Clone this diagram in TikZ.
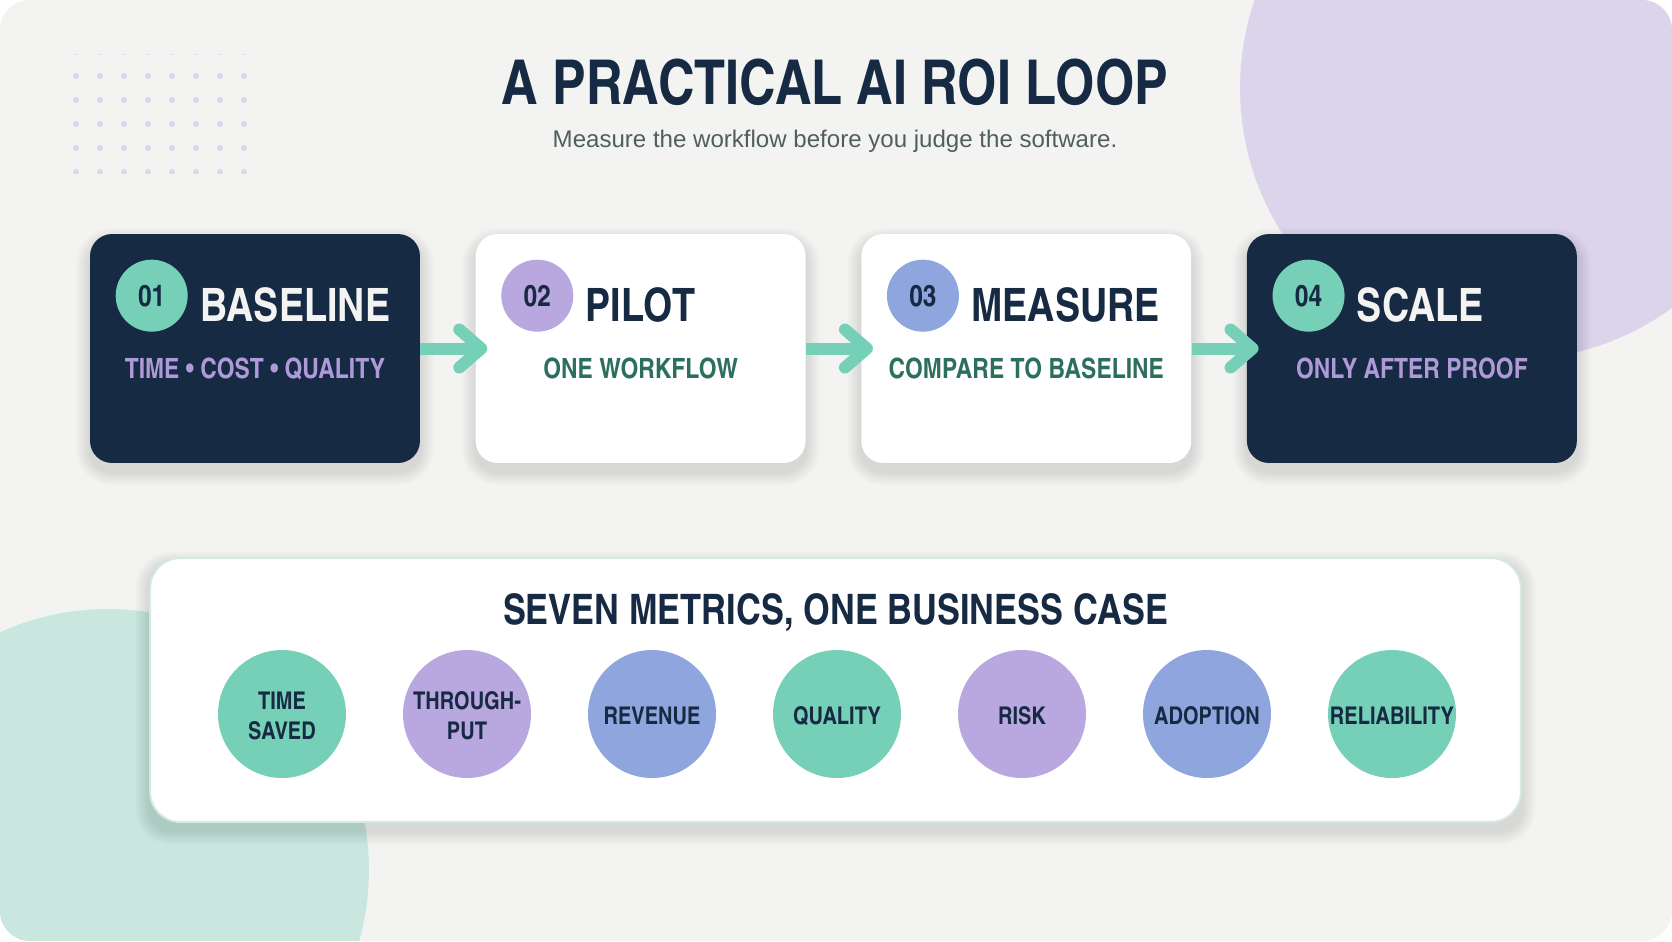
\documentclass[tikz,border=0pt]{standalone}
\usepackage{fontspec}
\setmainfont{Liberation Sans}
\newfontfamily\cnd{texgyreheroscn-bold.otf}
\usetikzlibrary{positioning,calc,arrows.meta}

\definecolor{paper}{HTML}{F3F3F1}
\definecolor{navy}{HTML}{172A43}
\definecolor{mint}{HTML}{76CFB7}
\definecolor{lilac}{HTML}{B9A7E0}
\definecolor{peri}{HTML}{8FA5DE}
\definecolor{pine}{HTML}{2D6F5F}
\definecolor{lilactext}{HTML}{AF9AD9}
\definecolor{blobl}{HTML}{DCD4EA}
\definecolor{blobm}{HTML}{C9E6DF}
\definecolor{dotc}{HTML}{D4D9EC}
\definecolor{slate}{HTML}{4F5F5D}
\definecolor{rim}{HTML}{D5E8E2}

\pgfdeclarelayer{backdrop}
\pgfdeclarelayer{shade}
\pgfsetlayers{backdrop,shade,main}

\begin{document}
\begin{tikzpicture}[x=0.02cm, y=-0.02cm,
        card/.style={rectangle, rounded corners=0.44cm, minimum width=6.6cm,
            minimum height=4.58cm, inner sep=0},
        darkcard/.style={card, fill=navy},
        lightcard/.style={card, fill=white},
        badge/.style={circle, minimum size=1.44cm, inner sep=0, text=navy,
            font=\cnd\fontsize{17}{17}\selectfont},
        steptitle/.style={anchor=base west, inner sep=0,
            font=\cnd\fontsize{26.2}{26.2}\selectfont},
        stepnote/.style={anchor=base, inner sep=0,
            font=\cnd\fontsize{15.9}{15.9}\selectfont},
        panel/.style={rectangle, fill=white, draw=rim, line width=0.04cm,
            rounded corners=0.6cm, minimum width=27.42cm, minimum height=5.28cm},
        metric/.style={circle, minimum size=2.56cm, inner sep=0, align=center,
            text=navy, font=\cnd\fontsize{13.9}{17.1}\selectfont},
        flow/.style={line width=0.24cm, mint,
            -{Straight Barb[length=0.44cm, width=0.76cm, round]}},
    ]
        \useasboundingbox (0,0) rectangle (1672,941);

        % Page, blobs and dot grid
        \begin{pgfonlayer}{backdrop}
            \fill[white] (0,0) rectangle (1672,941);
            \fill[paper, rounded corners=0.6cm] (0,0) rectangle (1672,941);
            \begin{scope}
                \clip[rounded corners=0.6cm] (0,0) rectangle (1672,941);
                \fill[blobl] (1512,88) circle [radius=5.44cm];
                \fill[blobm] (108,870) circle [radius=5.22cm];
            \end{scope}
            \begin{scope}
                \clip (54.7,54.7) rectangle (246.7,173.3);
                \foreach \i in {0,...,8} {
                    \foreach \j in {0,...,5} {
                        \fill[dotc] (52+24*\i, 52+24*\j) circle [radius=0.06cm];
                    }
                }
            \end{scope}
        \end{pgfonlayer}

        % Heading
        \node[anchor=base, inner sep=0, text=navy,
            font=\cnd\fontsize{35.2}{35.2}\selectfont] (title) at (835,104)
            {A PRACTICAL AI ROI LOOP};
        \node[anchor=base, inner sep=0, text=slate,
            font=\fontsize{13.7}{13.7}\selectfont] (subtitle) at (835,147)
            {Measure the workflow before you judge the software.};

        % Steps
        \node[darkcard] (c1) at (255,348.5) {};
        \node[lightcard, right=1.1cm of c1] (c2) {};
        \node[lightcard, right=1.1cm of c2] (c3) {};
        \node[darkcard, right=1.1cm of c3] (c4) {};

        \foreach \cname/\cnum/\cfill/\ttl/\tcol/\cnote/\ncol in {
            c1/01/mint/BASELINE/paper/TIME • COST • QUALITY/lilactext,
            c2/02/lilac/PILOT/navy/ONE WORKFLOW/pine,
            c3/03/peri/MEASURE/navy/COMPARE TO BASELINE/pine,
            c4/04/mint/SCALE/paper/ONLY AFTER PROOF/lilactext} {
            \node[badge, fill=\cfill] (\cname-num) at ($(\cname.north west)+(62,62)$) {\cnum};
            \node[steptitle, text=\tcol] (\cname-title) at ($(\cname.north west)+(110,88)$) {\ttl};
            \node[stepnote, text=\ncol] (\cname-note) at ($(\cname.north)+(0,145)$) {\cnote};
        }

        % Flow arrows
        \draw[flow] (c1.east) -- ([xshift=0.24cm]c2.west);
        \draw[flow] (c2.east) -- ([xshift=0.24cm]c3.west);
        \draw[flow] (c3.east) -- ([xshift=0.24cm]c4.west);

        % Metrics panel
        \node[panel] (metrics) at (835.5,690) {};
        \node[anchor=base, inner sep=0, text=navy,
            font=\cnd\fontsize{23.9}{23.9}\selectfont] (metrics-title)
            at ($(metrics.north)+(0,67)$) {SEVEN METRICS, ONE BUSINESS CASE};

        \foreach \k/\col/\lbl in {0/mint/TIME\\SAVED, 1/lilac/THROUGH-\\PUT,
            2/peri/REVENUE, 3/mint/QUALITY, 4/lilac/RISK, 5/peri/ADOPTION,
            6/mint/RELIABILITY} {
            \node[metric, fill=\col] (m\k) at (282+185*\k, 714) {};
            \node[align=center, inner sep=0, text=navy,
                font=\cnd\fontsize{13.9}{17.1}\selectfont] (m\k-label)
                at ([yshift=-0.04cm]m\k.center) {\lbl};
        }

        % Soft shadows
        \begin{pgfonlayer}{shade}
            \foreach \c in {c1,c2,c3,c4,metrics} {
                \foreach \k in {1,...,14} {
                    \fill[navy, opacity=0.007, rounded corners=0.44cm+\k*0.02cm]
                        ($(\c.north west)+(-\k,-\k+8)$) rectangle ($(\c.south east)+(\k,\k+8)$);
                }
            }
        \end{pgfonlayer}
    \end{tikzpicture}
\end{document}
